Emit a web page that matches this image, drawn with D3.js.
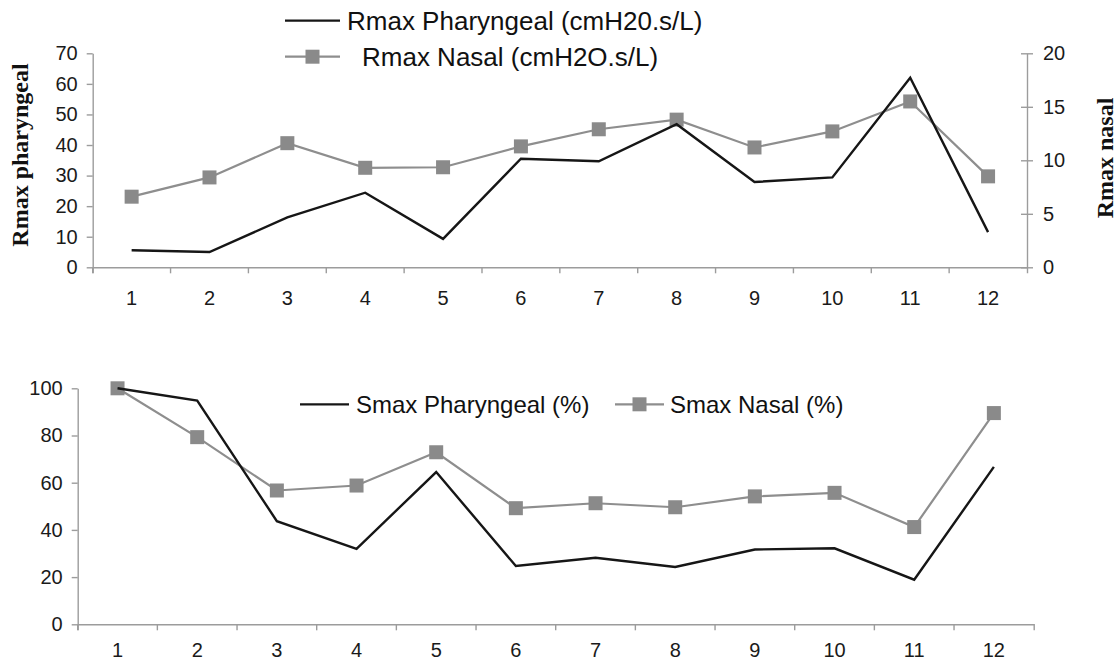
<!DOCTYPE html>
<html>
<head>
<meta charset="utf-8">
<script src="https://cdn.jsdelivr.net/npm/d3@7"></script>
<style>
	body { margin: 0; background: #fff; }
	svg { display: block; }
	.axis text { font-family: "Liberation Sans", Arial, sans-serif; fill: #1a1a1a; }
	.axis path, .axis line { stroke: #9c9c9c; stroke-width: 1.4; }
	.title { font-family: "Liberation Serif", "Times New Roman", serif; font-weight: bold; fill: #111; }
	.legend text { font-family: "Liberation Sans", Arial, sans-serif; fill: #111; }
</style>
</head>
<body>
<div id="chart"></div>
<script>

// subjects 1..12
const subjects = [1, 2, 3, 4, 5, 6, 7, 8, 9, 10, 11, 12];

// top panel
const rmaxPharyngeal = [5.6, 5.0, 16.3, 24.4, 9.3, 35.5, 34.7, 46.8, 27.9, 29.4, 62.0, 11.5];
const rmaxNasal = [6.6, 8.4, 11.6, 9.3, 9.35, 11.3, 12.9, 13.8, 11.2, 12.7, 15.5, 8.5];
const rmaxLeftTicks = [0, 10, 20, 30, 40, 50, 60, 70];
const rmaxRightTicks = [0, 5, 10, 15, 20];

// bottom panel
const smaxPharyngeal = [100, 94.8, 43.7, 32.0, 64.5, 24.7, 28.2, 24.3, 31.7, 32.2, 18.9, 66.7];
const smaxNasal = [100, 79.3, 56.7, 58.8, 72.9, 49.2, 51.3, 49.6, 54.2, 55.7, 41.2, 89.5];
const smaxTicks = [0, 20, 40, 60, 80, 100];

const width = 1118, height = 662;
const darkLine = '#161616', greyLine = '#8e8e8e', marker = '#8a8a8a';
const markerSize = 14;

const svg = d3.select('#chart').append('svg')
	.attr('width', width)
	.attr('height', height);

function drawSeries(g, x, y, values, withMarkers, color, strokeWidth){
	const line = d3.line()
		.x((d, i) => x(subjects[i]) + x.bandwidth() / 2)
		.y(d => y(d));
	g.append('path')
		.datum(values)
		.attr('fill', 'none')
		.attr('stroke', color)
		.attr('stroke-width', strokeWidth)
		.attr('d', line);
	if (withMarkers) {
		g.selectAll(null)
			.data(values)
			.enter()
			.append('rect')
				.attr('x', (d, i) => x(subjects[i]) + x.bandwidth() / 2 - markerSize / 2)
				.attr('y', d => y(d) - markerSize / 2)
				.attr('width', markerSize)
				.attr('height', markerSize)
				.attr('fill', marker);
	}
}

function legendItem(g, x1, x2, y, textX, label, withMarker, color, fontSize){
	g.append('line')
		.attr('x1', x1).attr('x2', x2)
		.attr('y1', y).attr('y2', y)
		.attr('stroke', color)
		.attr('stroke-width', 2.2);
	if (withMarker) {
		g.append('rect')
			.attr('x', (x1 + x2) / 2 - markerSize / 2)
			.attr('y', y - markerSize / 2)
			.attr('width', markerSize).attr('height', markerSize)
			.attr('fill', marker);
	}
	g.append('text')
		.attr('x', textX)
		.attr('y', y)
		.attr('dy', '0.36em')
		.style('font-size', fontSize + 'px')
		.text(label);
}

// x axis with ticks between the categories
function categoryAxis(g, x, padding){
	g.call(d3.axisBottom(x).tickSizeOuter(6).tickSizeInner(6).tickPadding(padding))
		.call(g => g.selectAll('.tick line').attr('transform', `translate(${-x.bandwidth() / 2},0)`))
		.call(g => g.selectAll('text').style('font-size', '20px'));
}

// ---------- top panel ----------
{
	const x = d3.scaleBand().domain(subjects).range([92.7, 1027]);
	const yL = d3.scaleLinear().domain([0, 70]).range([267.3, 53.3]);
	const yR = d3.scaleLinear().domain([0, 20]).range([267.3, 53.3]);

	svg.append('g')
		.attr('class', 'axis')
		.attr('transform', 'translate(0,267.3)')
		.call(g => categoryAxis(g, x, 18));

	svg.append('g')
		.attr('class', 'axis')
		.attr('transform', 'translate(92.7,0)')
		.call(d3.axisLeft(yL).tickValues(rmaxLeftTicks).tickSize(6).tickSizeOuter(0).tickPadding(9))
		.call(g => g.selectAll('text').style('font-size', '20px'));

	svg.append('g')
		.attr('class', 'axis')
		.attr('transform', 'translate(1027,0)')
		.call(d3.axisRight(yR).tickValues(rmaxRightTicks).tickSize(6).tickSizeOuter(0).tickPadding(10))
		.call(g => g.selectAll('.tick line').attr('x1', -6))
		.call(g => g.selectAll('text').style('font-size', '20px'));

	svg.append('text')
		.attr('class', 'title')
		.attr('transform', 'translate(28,155) rotate(-90)')
		.attr('text-anchor', 'middle')
		.style('font-size', '24px')
		.text('Rmax pharyngeal');

	svg.append('text')
		.attr('class', 'title')
		.attr('transform', 'translate(1113,158) rotate(-90)')
		.attr('text-anchor', 'middle')
		.style('font-size', '24px')
		.text('Rmax nasal');

	const plot = svg.append('g');
	drawSeries(plot, x, yR, rmaxNasal, true, greyLine, 2.2);
	drawSeries(plot, x, yL, rmaxPharyngeal, false, darkLine, 2.4);

	const lg = svg.append('g').attr('class', 'legend');
	legendItem(lg, 285, 340, 20.7, 347, 'Rmax Pharyngeal (cmH20.s/L)', false, darkLine, 26);
	legendItem(lg, 285, 340, 56.7, 362, 'Rmax Nasal (cmH2O.s/L)', true, greyLine, 26);
}

// ---------- bottom panel ----------
{
	const x = d3.scaleBand().domain(subjects).range([77.7, 1033.7]);
	const y = d3.scaleLinear().domain([0, 100]).range([624.3, 388.3]);

	svg.append('g')
		.attr('class', 'axis')
		.attr('transform', 'translate(0,624.3)')
		.call(g => categoryAxis(g, x, 13));

	svg.append('g')
		.attr('class', 'axis')
		.attr('transform', 'translate(77.7,0)')
		.call(d3.axisLeft(y).tickValues(smaxTicks).tickSize(6).tickSizeOuter(0).tickPadding(9))
		.call(g => g.selectAll('text').style('font-size', '20px'));

	const plot = svg.append('g');
	drawSeries(plot, x, y, smaxNasal, true, greyLine, 2.2);
	drawSeries(plot, x, y, smaxPharyngeal, false, darkLine, 2.4);

	const lg = svg.append('g').attr('class', 'legend');
	legendItem(lg, 300, 349, 404.3, 356, 'Smax Pharyngeal (%)', false, darkLine, 24);
	legendItem(lg, 615, 664, 404.3, 670, 'Smax Nasal (%)', true, greyLine, 24);
}
</script>
</body>
</html>
